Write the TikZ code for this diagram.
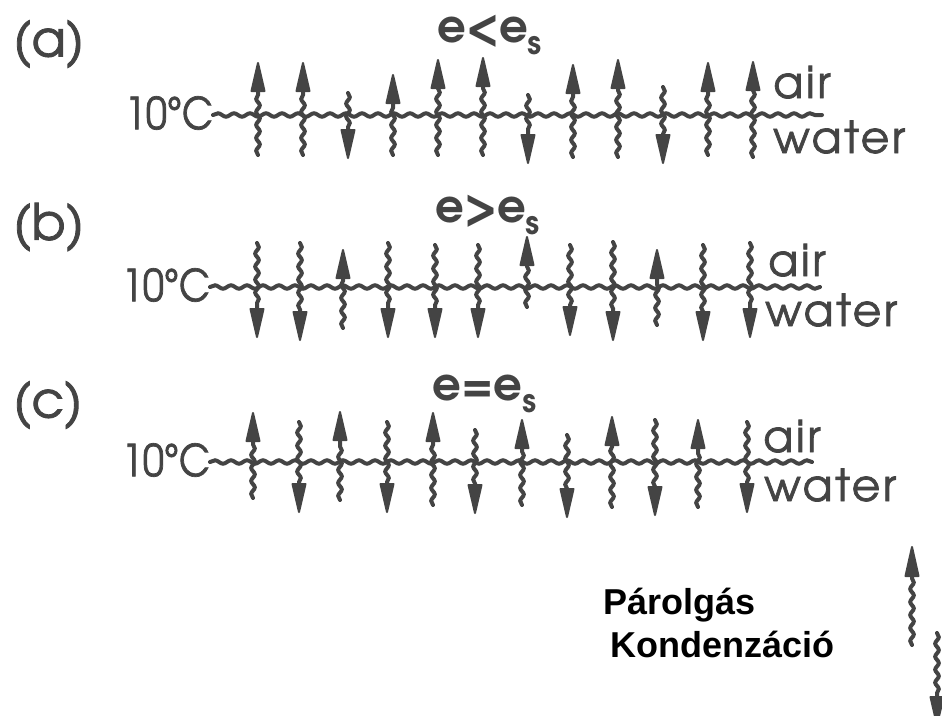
\documentclass[tikz,border=0pt]{standalone}
\usepackage{fontspec}
\usetikzlibrary{decorations.pathmorphing}
\newfontfamily\gothic[FakeBold=1.6]{texgyreadventor-regular.otf}
\newfontfamily\gothicn[FakeBold=1.6,FakeStretch=0.86]{texgyreadventor-regular.otf}
\newfontfamily\gothics[FakeBold=1.6,LetterSpace=6]{texgyreadventor-regular.otf}
\newfontfamily\gothicb{texgyreadventor-bold.otf}
\setsansfont{Liberation Sans}
\definecolor{ink}{RGB}{68,68,68}
\tikzset{
  wave/.style={draw=ink, line width=4pt, line cap=round, decorate,
    decoration={snake, segment length=16pt, amplitude=1.7pt}},
  shaft/.style={draw=ink, line width=4pt, line cap=round, decorate,
    decoration={snake, segment length=13pt, amplitude=1.8pt}},
  headstyle/.style={fill=ink, draw=ink, line width=2pt, line join=round},
  panellbl/.style={font=\gothic\fontsize{50}{54}\selectfont, text=ink, inner sep=0pt, anchor=west},
  templbl/.style={font=\gothicn\fontsize{44}{48}\selectfont, text=ink, inner sep=0pt, anchor=east},
  medlbl/.style={font=\gothics\fontsize{44}{48}\selectfont, text=ink, inner sep=0pt, anchor=base west},
  condlbl/.style={font=\gothicb\fontsize{45}{48}\selectfont, text=ink, inner sep=0pt, anchor=base west},
  legendlbl/.style={font=\sffamily\bfseries\fontsize{36}{40}\selectfont, text=black, inner sep=0pt, anchor=base west}
}
\newcommand\tickrow[3]{%
  \foreach \x/\tip/\tail [count=\i] in {#3} {
    \pgfmathsetmacro\base{\tip+28*sign(#2-\tip)}
    \coordinate (#1\i) at (\x,#2);
    \draw[shaft] (\x,\tail) -- (\x,\base);
    \filldraw[headstyle] (\x,\tip) -- (\x-6.5,\base) -- (\x+6.5,\base) -- cycle;
  }}
\newcommand\subs[1]{\raisebox{-12pt}{\fontsize{32}{32}\selectfont #1}}
\begin{document}
\begin{tikzpicture}[x=1pt,y=-1pt]
\useasboundingbox (0,0) rectangle (942,715);
\clip (0,0) rectangle (942,715);

% panel (a)
\node[panellbl] (pa) at (13,44) {(a)};
\node[condlbl] (ca) at (437,42) {e<e\subs{s}};
\node[templbl] (ta) at (213,113) {10°C};
\coordinate (la0) at (213,115);
\coordinate (la1) at (822,115);
\draw[wave] (la0) -- (la1);
\tickrow{a}{115}{258/63/155, 303/63/155, 348/158/93, 393/75/155, 438/60/155, 483/58/155, 528/163/95, 573/65/157, 618/60/157, 663/163/87, 708/63/155, 753/62/157}
\node[medlbl] (aira) at (773,98) {air};
\node[medlbl] (wata) at (773,153) {water};

% panel (b)
\node[panellbl] (pb) at (13,227) {(b)};
\node[condlbl] (cb) at (435,222) {e>e\subs{s}};
\node[templbl] (tb) at (210,285) {10°C};
\coordinate (lb0) at (210,287);
\coordinate (lb1) at (820,287);
\draw[wave] (lb0) -- (lb1);
\tickrow{b}{287}{257/337/243, 300/340/243, 343/250/328, 388/337/243, 435/337/245, 478/337/245, 527/237/307, 570/335/245, 613/340/242, 657/250/325, 703/340/245, 750/337/243}
\node[medlbl] (airb) at (768,276) {air};
\node[medlbl] (watb) at (765,326) {water};

% panel (c)
\node[panellbl] (pc) at (13,405) {(c)};
\node[condlbl] (cc) at (432,400) {e=e\subs{s}};
\node[templbl] (tc) at (210,460) {10°C};
\coordinate (lc0) at (210,462);
\coordinate (lc1) at (812,462);
\draw[wave] (lc0) -- (lc1);
\tickrow{c}{462}{253/413/498, 299/512/422, 340/412/500, 387/512/422, 433/413/505, 475/513/430, 522/420/505, 567/517/435, 612/417/507, 655/515/420, 698/420/507, 747/512/422}
\node[medlbl] (airc) at (763,452) {air};
\node[medlbl] (watc) at (764,501) {water};

% legend
\node[legendlbl] (lev) at (603,614) {Párolgás};
\node[legendlbl] (lco) at (610,657) {Kondenzáció};
\coordinate (evtail) at (912,645);
\coordinate (evbase) at (912,576);
\draw[shaft] (evtail) -- (evbase);
\filldraw[headstyle] (912,547) -- (905.5,576) -- (918.5,576) -- cycle;
\coordinate (cotail) at (937,633);
\coordinate (cobase) at (937,697);
\draw[shaft] (cotail) -- (cobase);
\filldraw[headstyle] (937,725) -- (930.5,697) -- (943.5,697) -- cycle;
\end{tikzpicture}
\end{document}
